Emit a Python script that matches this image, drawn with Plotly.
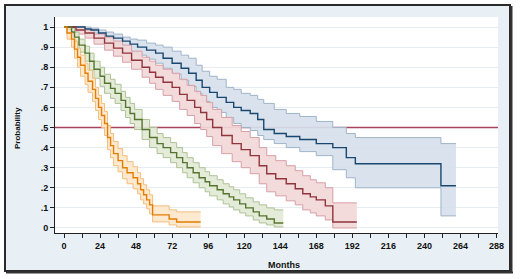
import plotly.graph_objects as go

# ---------------- data ----------------
x_tickvals = [0, 24, 48, 72, 96, 120, 144, 168, 192, 216, 240, 264, 288]
y_tickvals = [0, 0.1, 0.2, 0.3, 0.4, 0.5, 0.6, 0.7, 0.8, 0.9, 1.0]
y_ticktext = ["0", ".1", ".2", ".3", ".4", ".5", ".6", ".7", ".8", ".9", "1"]
ref_line_y = 0.5

blue_t = [0, 10, 14, 18, 23, 28, 33, 39, 44, 49, 55, 61, 66, 72, 78, 83, 88, 92, 97, 102, 108, 113, 118, 124, 129, 133, 140, 148, 157, 168, 179, 188, 194, 251, 261]
blue_s = [1, 1, 0.99, 0.985, 0.97, 0.955, 0.945, 0.93, 0.915, 0.90, 0.885, 0.87, 0.845, 0.82, 0.795, 0.77, 0.735, 0.70, 0.675, 0.65, 0.625, 0.60, 0.585, 0.57, 0.54, 0.49, 0.47, 0.455, 0.44, 0.42, 0.40, 0.35, 0.32, 0.21, 0.21]
blue_hi = [1, 1, 1, 0.995, 0.985, 0.975, 0.965, 0.95, 0.94, 0.935, 0.92, 0.91, 0.90, 0.88, 0.86, 0.845, 0.81, 0.78, 0.755, 0.74, 0.70, 0.69, 0.67, 0.66, 0.64, 0.62, 0.59, 0.57, 0.555, 0.53, 0.50, 0.47, 0.45, 0.42, 0.42]
blue_lo = [1, 1, 0.98, 0.97, 0.95, 0.93, 0.915, 0.895, 0.875, 0.86, 0.84, 0.82, 0.795, 0.765, 0.735, 0.705, 0.67, 0.63, 0.60, 0.575, 0.55, 0.52, 0.50, 0.485, 0.46, 0.44, 0.42, 0.40, 0.38, 0.36, 0.29, 0.25, 0.20, 0.06, 0.06]

red_t = [0, 4, 8, 14, 20, 27, 33, 39, 45, 52, 57, 61, 66, 72, 77, 82, 87, 91, 95, 99, 105, 112, 118, 124, 130, 135, 141, 148, 154, 159, 164, 168, 174, 179, 195]
red_s = [1, 1, 0.985, 0.97, 0.945, 0.92, 0.895, 0.87, 0.835, 0.80, 0.775, 0.75, 0.725, 0.70, 0.665, 0.635, 0.60, 0.575, 0.54, 0.50, 0.46, 0.42, 0.39, 0.36, 0.31, 0.27, 0.245, 0.22, 0.195, 0.17, 0.155, 0.14, 0.11, 0.03, 0.03]
red_hi = [1, 1, 1, 0.985, 0.965, 0.95, 0.93, 0.91, 0.88, 0.85, 0.83, 0.81, 0.79, 0.77, 0.74, 0.71, 0.68, 0.66, 0.625, 0.59, 0.55, 0.51, 0.48, 0.45, 0.40, 0.36, 0.335, 0.31, 0.285, 0.26, 0.24, 0.225, 0.20, 0.125, 0.125]
red_lo = [1, 1, 0.965, 0.945, 0.915, 0.885, 0.855, 0.825, 0.79, 0.75, 0.72, 0.69, 0.66, 0.63, 0.59, 0.56, 0.52, 0.49, 0.455, 0.41, 0.37, 0.33, 0.30, 0.27, 0.22, 0.18, 0.16, 0.135, 0.115, 0.09, 0.075, 0.06, 0.04, 0.0, 0.0]

green_t = [0, 3, 5, 7, 10, 14, 17, 20, 24, 27, 31, 34, 38, 41, 44, 47, 52, 57, 62, 66, 71, 75, 79, 82, 86, 90, 94, 97, 102, 106, 110, 113, 117, 121, 126, 130, 135, 140, 146]
green_s = [1, 1, 0.975, 0.95, 0.91, 0.87, 0.83, 0.79, 0.755, 0.72, 0.695, 0.67, 0.635, 0.60, 0.57, 0.54, 0.49, 0.45, 0.42, 0.40, 0.375, 0.35, 0.325, 0.30, 0.275, 0.25, 0.23, 0.21, 0.19, 0.17, 0.155, 0.14, 0.12, 0.10, 0.08, 0.06, 0.045, 0.025, 0.025]
green_hi = [1, 1, 0.995, 0.975, 0.94, 0.905, 0.87, 0.83, 0.80, 0.765, 0.74, 0.715, 0.68, 0.65, 0.62, 0.59, 0.54, 0.50, 0.47, 0.45, 0.425, 0.40, 0.375, 0.35, 0.325, 0.30, 0.28, 0.26, 0.24, 0.22, 0.205, 0.19, 0.17, 0.15, 0.13, 0.115, 0.10, 0.09, 0.09]
green_lo = [1, 1, 0.95, 0.92, 0.875, 0.83, 0.785, 0.745, 0.705, 0.67, 0.645, 0.62, 0.585, 0.55, 0.52, 0.49, 0.44, 0.40, 0.37, 0.35, 0.325, 0.30, 0.275, 0.25, 0.225, 0.20, 0.18, 0.16, 0.14, 0.12, 0.105, 0.09, 0.075, 0.06, 0.04, 0.025, 0.015, 0.005, 0.005]

orange_t = [0, 2, 5, 7, 9, 11, 14, 16, 19, 21, 23, 25, 27, 29, 31, 33, 36, 39, 42, 46, 49, 51, 53, 55, 57, 59, 70, 75, 91]
orange_s = [1, 0.97, 0.94, 0.89, 0.85, 0.81, 0.77, 0.73, 0.69, 0.645, 0.60, 0.56, 0.52, 0.45, 0.41, 0.37, 0.335, 0.30, 0.275, 0.25, 0.22, 0.19, 0.165, 0.14, 0.115, 0.065, 0.045, 0.03, 0.03]
orange_hi = [1, 0.99, 0.97, 0.93, 0.895, 0.86, 0.82, 0.785, 0.745, 0.70, 0.66, 0.62, 0.58, 0.51, 0.47, 0.43, 0.395, 0.36, 0.33, 0.305, 0.275, 0.245, 0.215, 0.19, 0.165, 0.11, 0.09, 0.08, 0.08]
orange_lo = [1, 0.94, 0.90, 0.845, 0.80, 0.755, 0.715, 0.675, 0.63, 0.585, 0.54, 0.50, 0.46, 0.39, 0.35, 0.31, 0.28, 0.245, 0.22, 0.195, 0.17, 0.14, 0.12, 0.095, 0.07, 0.03, 0.015, 0.005, 0.005]

groups = [
    (blue_t, blue_s, blue_lo, blue_hi, "#1a476f", "#9fb4c8", "rgba(214,224,236,0.92)"),
    (red_t, red_s, red_lo, red_hi, "#90353b", "#d79fa5", "rgba(242,216,217,0.92)"),
    (green_t, green_s, green_lo, green_hi, "#55752f", "#aec296", "rgba(226,234,214,0.92)"),
    (orange_t, orange_s, orange_lo, orange_hi, "#e37e00", "#f4bd7a", "rgba(253,231,204,0.92)"),
]

# ---------------- figure ----------------
W, H = 520, 279
L, R, T, B = 55, 22, 17, 46
pw, ph = W - L - R, H - T - B


def px(x):
    return (x - L) / pw


def py(y):
    return (H - B - y) / ph


fig = go.Figure()

# reference line
fig.add_trace(go.Scatter(x=[-6, 289], y=[ref_line_y, ref_line_y], mode="lines",
                         line=dict(color="#a8405e", width=1.6), hoverinfo="skip"))

# confidence bands
for t, s, lo, hi, c, ec, fc in groups:
    fig.add_trace(go.Scatter(x=t, y=lo, mode="lines", line=dict(color=ec, width=1, shape="hv"),
                             hoverinfo="skip"))
    fig.add_trace(go.Scatter(x=t, y=hi, mode="lines", line=dict(color=ec, width=1, shape="hv"),
                             fill="tonexty", fillcolor=fc, hoverinfo="skip"))

# survival curves
for t, s, lo, hi, c, ec, fc in groups:
    fig.add_trace(go.Scatter(x=t, y=s, mode="lines", line=dict(color=c, width=1.4, shape="hv"),
                             hoverinfo="skip"))

tick_font = dict(family="Liberation Sans, Arial, sans-serif", size=9, color="#111", weight="bold")

fig.update_layout(
    width=W, height=H,
    margin=dict(l=L, r=R, t=T, b=B),
    paper_bgcolor="white",
    plot_bgcolor="white",
    showlegend=False,
    font=dict(family="Liberation Sans, Arial, sans-serif", size=10, color="#111"),
    xaxis=dict(range=[-6, 289], tickvals=x_tickvals, ticks="outside", ticklen=4,
               tickcolor="#222", showline=True, linecolor="#222", linewidth=1,
               showgrid=False, zeroline=False,
               minor=dict(dtick=12, tick0=0, ticks="outside", ticklen=4, tickcolor="#222"),
               tickfont=tick_font),
    yaxis=dict(range=[-0.025, 1.05], tickvals=y_tickvals, ticktext=y_ticktext,
               ticks="outside", ticklen=4, tickcolor="#222", showline=True,
               linecolor="#222", linewidth=1, showgrid=True, gridcolor="#e6ecf1",
               gridwidth=1, zeroline=False, tickfont=tick_font),
    shapes=[
        dict(type="rect", xref="paper", yref="paper", layer="below",
             x0=px(5), x1=px(510), y0=py(271), y1=py(5),
             fillcolor="#e8f0f5", line=dict(color="#2a2a2a", width=2)),
        dict(type="line", xref="paper", yref="paper", layer="below",
             x0=px(511.5), x1=px(511.5), y0=py(273), y1=py(6),
             line=dict(color="#333", width=2)),
        dict(type="line", xref="paper", yref="paper", layer="below",
             x0=px(6), x1=px(513), y0=py(272.5), y1=py(272.5),
             line=dict(color="#333", width=2)),
        dict(type="rect", xref="paper", yref="paper", layer="below",
             x0=0, x1=1, y0=0, y1=1,
             fillcolor="white", line=dict(width=0)),
    ],
    annotations=[
        dict(text="Probability", xref="paper", yref="paper", x=px(18), y=py(128),
             showarrow=False, textangle=-90,
             font=dict(size=8, color="#111", weight="bold"),
             xanchor="center", yanchor="middle"),
        dict(text="Months", xref="paper", yref="paper", x=px(284), y=py(265),
             showarrow=False, font=dict(size=9, color="#111", weight="bold"),
             xanchor="center", yanchor="middle"),
    ],
)

fig.write_html("out.html", config={"displayModeBar": False},
               post_script="document.body.style.margin='0';")
